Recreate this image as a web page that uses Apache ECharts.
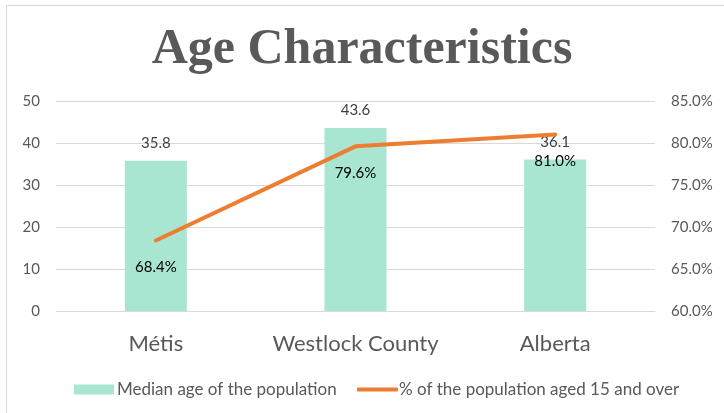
<!DOCTYPE html>
<html>
<head>
<meta charset="utf-8">
<script src="https://cdn.jsdelivr.net/npm/echarts@6/dist/echarts.min.js"></script>
<style>
  html, body { margin: 0; padding: 0; background: #fff; }
  #chart { width: 724px; height: 413px; }
  #frame { position: absolute; left: 6px; top: 5px; right: -2px; bottom: -2px; border: 1px solid #d9d9d9; pointer-events: none; }
</style>
</head>
<body>
<div id="chart"></div>
<div id="frame"></div>
<script>
const titleText = 'Age Characteristics';
const categories = ['Métis', 'Westlock County', 'Alberta'];
const medianAge = [35.8, 43.6, 36.1];
const pctAged15Plus = [68.4, 79.6, 81.0];
const barName = 'Median age of the population';
const lineName = '% of the population aged 15 and over';

const chart = echarts.init(document.getElementById('chart'));
const gray = '#595959';
const uiFont = 'Lato';

chart.setOption({
    animation: false,
    title: {
        text: titleText,
        left: 'center',
        top: 20,
        textStyle: {
            fontFamily: 'Liberation Serif',
            fontWeight: 'bold',
            fontSize: 50,
            color: gray
        }
    },
    grid: { left: 56, right: 69, top: 101, bottom: 102 },
    legend: [
        {
            data: [barName],
            left: 69, top: 376,
            itemWidth: 40, itemHeight: 10,
            icon: 'rect',
            textStyle: { fontFamily: uiFont, fontSize: 17, color: gray, padding: [0, 0, 0, -2] }
        },
        {
            data: [{ name: lineName, icon: 'roundRect' }],
            left: 352, top: 376,
            itemWidth: 41, itemHeight: 4,
            textStyle: { fontFamily: uiFont, fontSize: 17, color: gray, padding: [0, 0, 0, -4] }
        }
    ],
    xAxis: {
        type: 'category',
        data: categories,
        axisLine: { lineStyle: { color: '#d9d9d9' } },
        axisTick: { show: false },
        axisLabel: { interval: 0, fontFamily: uiFont, fontSize: 22, color: gray, margin: 22 }
    },
    yAxis: [
        {
            type: 'value', min: 0, max: 50, interval: 10,
            axisLine: { show: false }, axisTick: { show: false },
            splitLine: { lineStyle: { color: '#d9d9d9' } },
            axisLabel: { fontFamily: uiFont, fontSize: 15, color: gray, margin: 16 }
        },
        {
            type: 'value', min: 60, max: 85, interval: 5,
            axisLine: { show: false }, axisTick: { show: false },
            splitLine: { show: false },
            axisLabel: {
                fontFamily: uiFont, fontSize: 15, color: gray, margin: 16,
                formatter: v => v.toFixed(1) + '%'
            }
        }
    ],
    series: [
        {
            name: barName,
            type: 'bar',
            data: medianAge,
            barWidth: 62,
            itemStyle: { color: '#a8e6d2' },
            label: {
                show: true, position: 'top', distance: 10,
                fontFamily: uiFont, fontSize: 15, color: '#404040',
                formatter: p => p.value.toFixed(1)
            }
        },
        {
            name: lineName,
            type: 'line',
            yAxisIndex: 1,
            data: pctAged15Plus,
            symbol: 'circle',
            symbolSize: 0,
            lineStyle: { color: '#ed7d31', width: 4, cap: 'round' },
            itemStyle: { color: '#ed7d31' },
            label: {
                show: true, position: 'bottom', distance: 19,
                fontFamily: uiFont, fontSize: 15, color: '#000',
                formatter: p => p.value.toFixed(1) + '%'
            }
        }
    ]
});
</script>
</body>
</html>
